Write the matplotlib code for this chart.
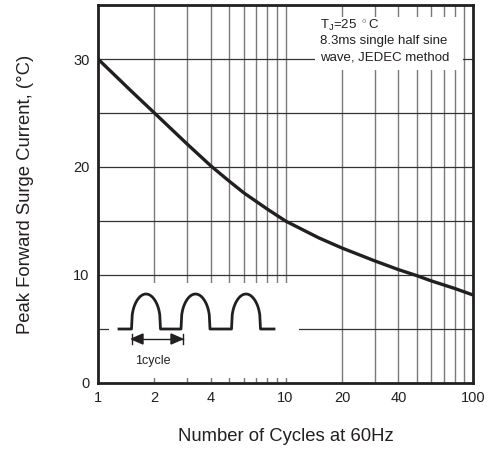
import numpy as np
import matplotlib
matplotlib.use("Agg")
import matplotlib.pyplot as plt
from matplotlib.patches import Rectangle, Polygon

plt.rcParams["font.family"] = ["Liberation Sans", "DejaVu Sans"]
plt.rcParams["mathtext.fontset"] = "custom"
plt.rcParams["mathtext.rm"] = "Liberation Sans"

# Surge current derating curve
cycles = [1, 1.5, 2, 3, 4, 5, 6, 8, 10, 15, 20, 30, 40, 50, 60, 80, 100]
surge_current = [30.0, 27.05, 25.0, 22.1, 20.1, 18.7, 17.6, 16.1, 15.0, 13.45, 12.5, 11.3, 10.5, 9.95, 9.45, 8.75, 8.15]

x_ticks = [1, 2, 4, 10, 20, 40, 100]
x_grid = [2, 3, 4, 5, 6, 7, 8, 9, 10, 20, 30, 40, 50, 60, 70, 80, 90]
y_ticks = [0, 10, 20, 30]
y_grid = [5, 10, 15, 20, 25, 30]

ink = "#231f20"

fig = plt.figure(figsize=(5.01, 4.53), dpi=100)
W, H = 501, 453


def px_box(x0, y0, x1, y1):
    # pixel box (top-left origin) -> figure fraction rect
    return [x0 / W, 1 - y1 / H, (x1 - x0) / W, (y1 - y0) / H]


ax = fig.add_axes(px_box(98, 5, 473, 383))
ax.set_xscale("log")
ax.set_xlim(1, 100)
ax.set_ylim(0, 35)

for xv in x_grid:
    ax.axvline(xv, color="#7a7a7a", lw=1.0, zorder=0.5)
for yv in y_grid:
    ax.axhline(yv, color="#333333", lw=0.9, zorder=0.5)

# white boxes behind the annotation and the waveform sketch
tb = ax.transAxes
ax.add_patch(Rectangle(((315 - 98) / 375, 1 - (70 - 5) / 378), (463 - 315) / 375, (70 - 17) / 378,
                       transform=tb, facecolor="white", edgecolor="none", zorder=0.8))
ax.add_patch(Rectangle(((109 - 98) / 375, (383 - 378) / 378), (299 - 109) / 375, (378 - 283) / 378,
                       transform=tb, facecolor="white", edgecolor="none", zorder=0.8))

ax.plot(cycles, surge_current, color=ink, lw=2.4, zorder=2, solid_capstyle="butt")

ax.set_xticks(x_ticks)
ax.set_xticklabels([str(v) for v in x_ticks])
ax.set_xticks([], minor=True)
ax.set_yticks(y_ticks)
ax.tick_params(length=0, labelsize=10.5, colors=ink, pad=6)
for s in ax.spines.values():
    s.set_linewidth(2.0)
    s.set_color(ink)
    s.set_zorder(3)

ax.set_xlabel("Number of Cycles at 60Hz", fontsize=13.3, color=ink, labelpad=16)
ax.set_ylabel("Peak Forward Surge Current, (°C)", fontsize=13.3, color=ink, labelpad=28)

ax.text(320 / W, 1 - 25 / H, r"T$_\mathregular{J}$=25 $^\circ$C", transform=fig.transFigure,
        fontsize=9.5, color=ink, va="center", ha="left", zorder=4)
ax.text(320 / W, 1 - 41 / H, "8.3ms single half sine", transform=fig.transFigure,
        fontsize=9.5, color=ink, va="center", ha="left", zorder=4)
ax.text(320 / W, 1 - 57 / H, "wave, JEDEC method", transform=fig.transFigure,
        fontsize=9.5, color=ink, va="center", ha="left", zorder=4)

# half sine waveform sketch, drawn in its own pixel-unit axes
ins = fig.add_axes(px_box(109, 283, 299, 378))
ins.set_xlim(0, 190)
ins.set_ylim(0, 95)
ins.axis("off")
base, top = 49, 84
wx, wy = [10], [base]
for start in [22.5, 72, 122.5]:
    u = np.linspace(0, 1, 40)
    wx += [start] + list(start + 29 * u) + [start + 29]
    wy += [base] + list(base + (top - base) * np.sin(np.pi * u) ** 0.35) + [base]
wx.append(165)
wy.append(base)
ins.plot(wx, wy, color=ink, lw=2.0)

ay = 39
ins.plot([22.5, 73.5], [ay, ay], color=ink, lw=1.0)
ins.plot([22.5, 22.5], [ay - 5, ay + 5], color=ink, lw=1.0)
ins.plot([73.5, 73.5], [ay - 5, ay + 5], color=ink, lw=1.0)
ins.add_patch(Polygon([[22.5, ay], [34, ay + 5], [34, ay - 5]], closed=True, color=ink))
ins.add_patch(Polygon([[73.5, ay], [62, ay + 5], [62, ay - 5]], closed=True, color=ink))
ins.text(44, 17, "1cycle", fontsize=9, color=ink, ha="center", va="center")

fig.savefig("out.png", dpi=100)
